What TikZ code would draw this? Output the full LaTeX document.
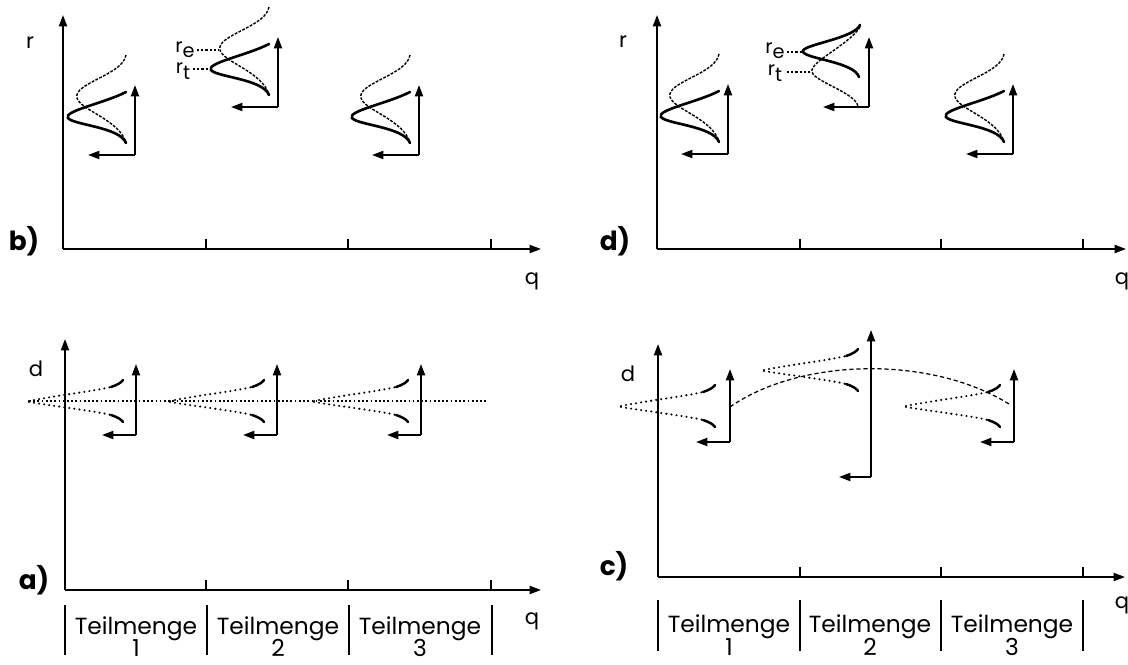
\documentclass[tikz,border=0pt]{standalone}
\usepackage{fontspec}
\setmainfont{Poppins}
\usetikzlibrary{arrows.meta}

\begin{document}
\begin{tikzpicture}[
  x=0.02cm, y=-0.02cm,
  axis/.style={line width=1.1pt, -{Triangle[length=6.5pt, width=4.6pt]}},
  tick/.style={line width=0.9pt},
  bar/.style={line width=0.9pt},
  thickcurve/.style={line width=1.5pt, line cap=round},
  thincurve/.style={line width=0.8pt, dash pattern=on 1.6pt off 0.8pt},
  guide/.style={line width=0.7pt, dash pattern=on 1.2pt off 1.2pt},
  dotcurve/.style={line width=1.3pt, line cap=round, dash pattern=on 0pt off 2.9pt},
  hook/.style={line width=1.4pt, line cap=round},
  centre/.style={line width=0.6pt, dash pattern=on 1pt off 1.4pt},
  drift/.style={line width=0.7pt, dash pattern=on 2.4pt off 1.6pt},
  lbl/.style={font=\fontsize{12}{12}\selectfont, inner sep=0pt},
  sublbl/.style={font=\fontsize{11}{11}\selectfont, inner sep=0pt},
  panel/.style={font=\bfseries\fontsize{15}{15}\selectfont, inner sep=0pt},
  part/.style={font=\fontsize{13.3}{13.3}\selectfont, inner sep=0pt},
  rpair/.pic={
    \draw[axis] (0,0) -- (0,-70);
    \draw[axis] (0,0) -- (-47,0);
    \draw[thincurve] (-9,-100) .. controls (-12,-80) and (-62,-72) .. (-58,-57)
      .. controls (-55,-45) and (-15,-35) .. (-9,-12);
    \draw[thickcurve] (-9,-63) .. controls (-30,-52) and (-72,-44) .. (-67,-37)
      .. controls (-62,-30) and (-15,-28) .. (-9,-12);
  },
  dgauss/.pic={
    \draw[dotcurve] (0,0) .. controls (30,-6) and (66,-10) .. (82,-14);
    \draw[hook] (82,-14) .. controls (88,-16) and (92,-18) .. (94,-21);
    \draw[dotcurve] (0,1) .. controls (30,6) and (66,10) .. (82,14);
    \draw[hook] (82,14) .. controls (88,16) and (92,18) .. (94,21);
  }
]
\useasboundingbox (0,0) rectangle (1128,665);

% b) top left
\coordinate (bO) at (63,249);
\draw[axis] (bO) -- (63,15);
\draw[axis] (bO) -- (541,249);
\foreach \x in {206,348,491}
  \draw[tick] (\x,249) -- (\x,239);
\node[panel] (bLab) at (24,241) {b)};
\node[lbl] (bR) at (30,43) {r};
\node[lbl] (bQ) at (532,281) {q};
\pic at (135,155) {rpair};
\pic at (278,107) {rpair};
\pic at (419,155) {rpair};
\node[sublbl] (bRe) at (185,50) {r\raisebox{-0.5ex}{e}};
\node[sublbl] (bRt) at (183,71) {r\raisebox{-0.5ex}{t}};
\draw[guide] (197,50) -- (219,50);
\draw[guide] (193,69) -- (210,69);

% d) top right
\coordinate (dO) at (657,249);
\draw[axis] (dO) -- (657,15);
\draw[axis] (dO) -- (1126,249);
\foreach \x in {800,941,1083}
  \draw[tick] (\x,249) -- (\x,239);
\node[panel] (dLab) at (615,241) {d)};
\node[lbl] (dR) at (623,42) {r};
\node[lbl] (dQ) at (1122,281) {q};
\pic at (728,154) {rpair};
\pic at (1013,154) {rpair};
\begin{scope}[shift={(869,107)}]
  \draw[axis] (0,0) -- (0,-70);
  \draw[axis] (0,0) -- (-46,0);
  \draw[thincurve] (-9,-80) .. controls (-20,-62) and (-60,-45) .. (-57,-35)
    .. controls (-54,-25) and (-15,-15) .. (-11,-1);
  \draw[thickcurve] (-9,-82) .. controls (-15,-68) and (-70,-62) .. (-66,-55)
    .. controls (-62,-48) and (-15,-45) .. (-10,-30);
\end{scope}
\node[sublbl] (dRe) at (775,51) {r\raisebox{-0.5ex}{e}};
\node[sublbl] (dRt) at (775,73) {r\raisebox{-0.5ex}{t}};
\draw[guide] (787,52) -- (803,52);
\draw[guide] (787,72) -- (812,72);

% a) bottom left
\coordinate (aO) at (65,590);
\draw[axis] (aO) -- (65,339);
\draw[axis] (aO) -- (541,590);
\foreach \x in {206,348,491}
  \draw[tick] (\x,590) -- (\x,580);
\node[panel] (aLab) at (34,580) {a)};
\node[lbl] (aD) at (36,369) {d};
\node[lbl] (aQ) at (532,621) {q};
\draw[centre] (29,401) -- (486,401);
\foreach \x in {29,170,314}
  \pic at (\x,401) {dgauss};
\foreach \x in {136,277,421} {
  \draw[axis] (\x,435) -- (\x,364);
  \draw[axis] (\x,435) -- ({\x-34},435);
}
\foreach \x in {65,207,349,492}
  \draw[bar] (\x,605) -- (\x,655);
\foreach \x/\n in {136/1,278/2,420/3} {
  \node[part] (aT\n) at (\x,629) {Teilmenge};
  \node[part] (aN\n) at (\x,648) {\n};
}

% c) bottom right
\coordinate (cO) at (658,577);
\draw[axis] (cO) -- (658,344);
\draw[axis] (cO) -- (1125,577);
\foreach \x in {800,941,1083}
  \draw[tick] (\x,577) -- (\x,567);
\node[panel] (cLab) at (614,566) {c)};
\node[lbl] (cD) at (628,374) {d};
\node[lbl] (cQ) at (1122,605) {q};
\pic at (621,406) {dgauss};
\pic at (764,370) {dgauss};
\pic at (906,406) {dgauss};
\foreach \x in {730,1014} {
  \draw[axis] (\x,442) -- (\x,369);
  \draw[axis] (\x,442) -- ({\x-34},442);
}
\coordinate (cBig) at (871,477);
\draw[axis] (cBig) -- (871,330);
\draw[axis] (cBig) -- (839,477);
\coordinate (cFrom) at (730,407);
\coordinate (cTo) at (1009,404);
\draw[drift] (cFrom) .. controls (800,358) and (930,355) .. (cTo);
\foreach \x in {658,800,941,1083}
  \draw[bar] (\x,600) -- (\x,651);
\foreach \x/\n in {729/1,870/2,1012/3} {
  \node[part] (cT\n) at (\x,627) {Teilmenge};
  \node[part] (cN\n) at (\x,647) {\n};
}
\end{tikzpicture}
\end{document}
